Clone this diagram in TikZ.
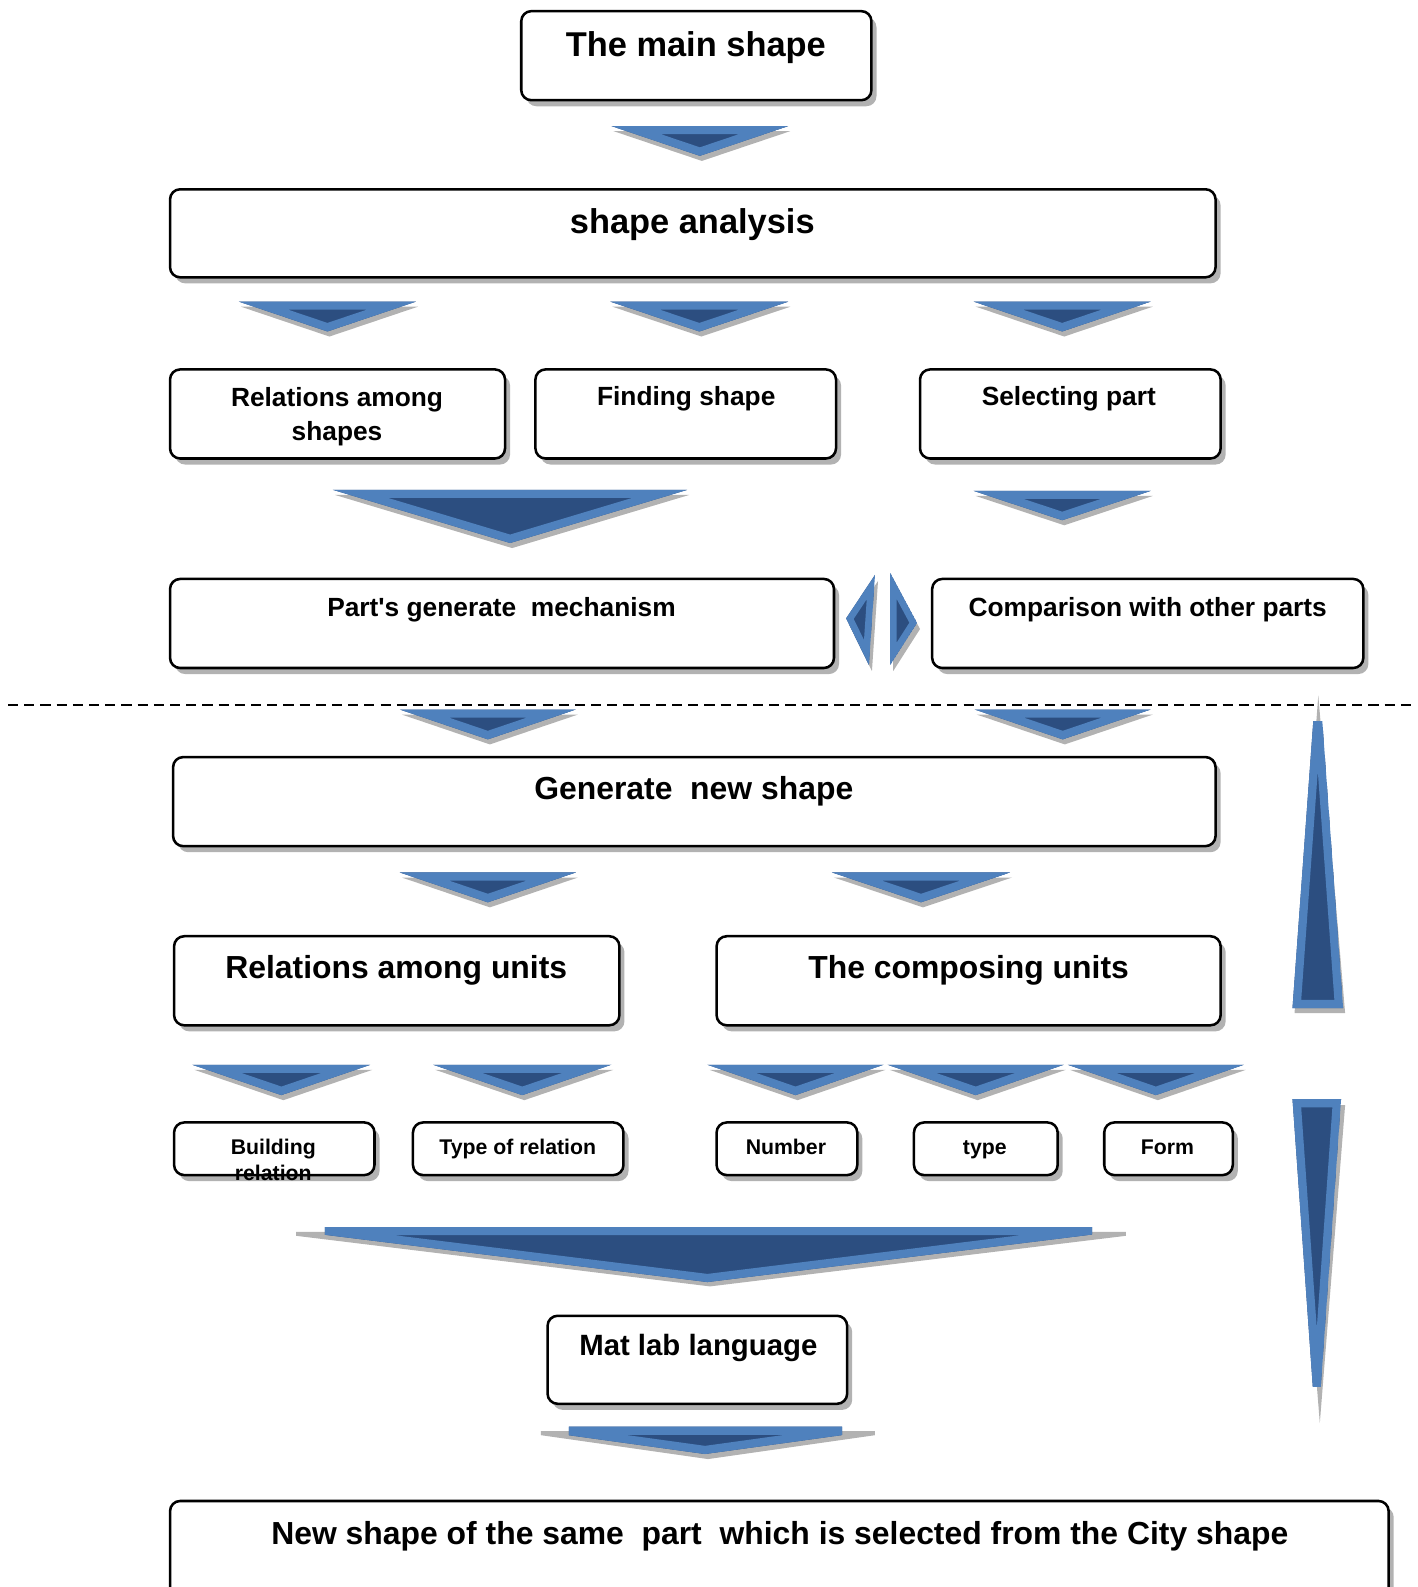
\documentclass[tikz,border=0pt]{standalone}
\usepackage{fontspec}
\setmainfont{Liberation Sans}
\usetikzlibrary{shadows}

\definecolor{arrlt}{RGB}{79,129,189}
\definecolor{arrdk}{RGB}{44,78,128}
\definecolor{shgray}{RGB}{178,178,178}

\tikzset{
  box/.style={draw=black, line width=2.5pt, rounded corners=10pt, fill=white,
    inner sep=0pt,
    general shadow={fill=shgray, shadow xshift=5pt, shadow yshift=-6pt}},
  lbl/.style={anchor=base, inner sep=0pt, text=black},
  fbig/.style={font=\fontsize{34}{40}\selectfont\bfseries},
  fmid/.style={font=\fontsize{31.5}{37}\selectfont\bfseries},
  fmat/.style={font=\fontsize{29}{34}\selectfont\bfseries},
  fsml/.style={font=\fontsize{26}{31}\selectfont\bfseries},
  ftiny/.style={font=\fontsize{21}{25}\selectfont\bfseries},
  dashline/.style={draw=black, line width=1.9pt, dash pattern=on 10pt off 6pt},
}

% triangle with a light bevel rim and a dark core
\newcommand\bevtri[4][16pt]{%
  \begin{scope}
    \clip #2 -- #3 -- #4 -- cycle;
    \fill[arrdk] #2 -- #3 -- #4 -- cycle;
    \draw[arrlt, line width=#1, line join=miter] #2 -- #3 -- #4 -- cycle;
  \end{scope}}

% downward chevron: left x, right x, top y, apex y
\newcommand\chevron[4]{%
  \fill[shgray] ({#1+2},{#3+5}) -- ({#2+2},{#3+5}) -- ({(#1+#2)/2+2},{#4+5}) -- cycle;
  \bevtri{(#1,#3)}{(#2,#3)}{({(#1+#2)/2},#4)}}

\begin{document}
\begin{tikzpicture}[x=1pt, y=-1pt]
\useasboundingbox (0,0) rectangle (1401,1568);

% ---- boxes ----
\node[box, minimum width=346pt, minimum height=88pt] (b1) at (688,55) {};
\node[box, minimum width=1033pt, minimum height=87pt] (b2) at (684.5,230.5) {};
\node[box, minimum width=331pt, minimum height=88pt] (b3a) at (333.5,409) {};
\node[box, minimum width=297pt, minimum height=88pt] (b3b) at (677.5,409) {};
\node[box, minimum width=297pt, minimum height=88pt] (b3c) at (1057.5,409) {};
\node[box, minimum width=656pt, minimum height=88pt] (b4a) at (496,616) {};
\node[box, minimum width=426pt, minimum height=88pt] (b4b) at (1134,616) {};
\node[box, minimum width=1030pt, minimum height=88pt] (b5) at (686,792) {};
\node[box, minimum width=440pt, minimum height=88pt] (b6a) at (392,969) {};
\node[box, minimum width=498pt, minimum height=88pt] (b6b) at (957,969) {};
\node[box, minimum width=198pt, minimum height=52pt] (b7a) at (271,1135) {};
\node[box, minimum width=208pt, minimum height=52pt] (b7b) at (512,1135) {};
\node[box, minimum width=139pt, minimum height=52pt] (b7c) at (777.5,1135) {};
\node[box, minimum width=142pt, minimum height=52pt] (b7d) at (974,1135) {};
\node[box, minimum width=127pt, minimum height=52pt] (b7e) at (1154.5,1135) {};
\node[box, minimum width=296pt, minimum height=87pt] (b8) at (689,1343.5) {};
\node[box, minimum width=1204pt, minimum height=117pt] (b9) at (770,1541.5) {};

% ---- chevrons ----
\chevron{604}{779}{124.5}{154}
\chevron{236}{411}{298}{327.5}
\chevron{603}{779}{298}{327.5}
\chevron{962}{1137}{298}{327.5}
\chevron{329}{679}{484}{536.5}
\chevron{962}{1137}{485}{514}
\chevron{395}{569}{701}{730.5}
\chevron{963}{1137}{701}{730.5}
\chevron{395}{569}{862}{891.5}
\chevron{822}{998}{862}{891.5}
\chevron{190}{366}{1052}{1082}
\chevron{428}{604}{1052}{1082}
\chevron{699}{873}{1052}{1082}
\chevron{877}{1051}{1052}{1082}
\chevron{1055}{1229}{1052}{1082}

% ---- side arrows between the two boxes of the fourth row ----
\fill[shgray] (867.5,574) -- (861.5,663) -- (839,617) -- cycle;
\bevtri[13pt]{(864.5,568)}{(858.5,657)}{(836,611)}
\fill[shgray] (882.5,572) -- (882.5,663) -- (909,621.5) -- cycle;
\bevtri[13pt]{(879.5,566)}{(879.5,657)}{(906,615.5)}

% ---- wide arrow above "Mat lab language" ----
\fill[shgray] (292.5,1217) -- (1112.5,1217) -- (1112.5,1221) -- (701.5,1271) -- (292.5,1221) -- cycle;
\begin{scope}
  \clip (321,1200) rectangle (1079,1300);
  \bevtri{(259.5,1212.4)}{(1138.5,1212.4)}{(699,1266.7)}
\end{scope}

% ---- arrow below "Mat lab language" ----
\fill[shgray] (534.5,1414) -- (864.5,1414) -- (864.5,1418) -- (699.5,1441.6) -- (534.5,1418) -- cycle;
\begin{scope}
  \clip (562,1400) rectangle (832,1450);
  \bevtri{(501,1409.6)}{(892,1409.6)}{(696.6,1436.6)}
\end{scope}

% ---- vertical arrows on the right ----
\fill[shgray] (1302.5,687) -- (1329,1001) -- (1279,1001) -- cycle;
\begin{scope}
  \clip (1250,713) rectangle (1350,1010);
  \bevtri{(1302,651)}{(1327,996)}{(1277,996)}
\end{scope}
\fill[shgray] (1279,1092) -- (1329,1092) -- (1304,1406) -- cycle;
\begin{scope}
  \clip (1250,1080) rectangle (1350,1369.5);
  \bevtri{(1277,1086)}{(1325,1086)}{(1301,1426)}
\end{scope}

% ---- labels ----
\node[lbl, fbig] (t1) at (687.5,56) {The main shape};
\node[lbl, fbig] (t2) at (684,231) {shape analysis};
\node[lbl, fsml] (t3a) at (333,402) {Relations among};
\node[lbl, fsml] (t3a2) at (333,435.5) {shapes};
\node[lbl, fsml] (t3b) at (678,401) {Finding shape};
\node[lbl, fsml] (t3c) at (1056,401) {Selecting part};
\node[lbl, fsml] (t4a) at (495.5,609) {Part\textquotesingle s generate\ \ mechanism};
\node[lbl, fsml] (t4b) at (1134,609) {Comparison with other parts};
\node[lbl, fmid] (t5) at (685.5,790) {Generate\ \ new shape};
\node[lbl, fmid] (t6a) at (391.5,967) {Relations among units};
\node[lbl, fmid] (t6b) at (957,967) {The composing units};
\node[lbl, ftiny] (t7a) at (270,1141) {Building};
\node[lbl, ftiny] (t7a2) at (270,1166.5) {relation};
\node[lbl, ftiny] (t7b) at (511.5,1141) {Type of relation};
\node[lbl, ftiny] (t7c) at (776.5,1141) {Number};
\node[lbl, ftiny] (t7d) at (973,1141) {type};
\node[lbl, ftiny] (t7e) at (1153.5,1141) {Form};
\node[lbl, fmat] (t8) at (690,1339.5) {Mat lab language};
\node[lbl, fmid] (t9) at (770.5,1526) {New shape of the same\ \ part\ \ which is selected from the City shape};

% ---- divider ----
\coordinate (dl) at (8,697);
\coordinate (dr) at (1395,697);
\draw[dashline] (dl) -- (dr);
\end{tikzpicture}
\end{document}
